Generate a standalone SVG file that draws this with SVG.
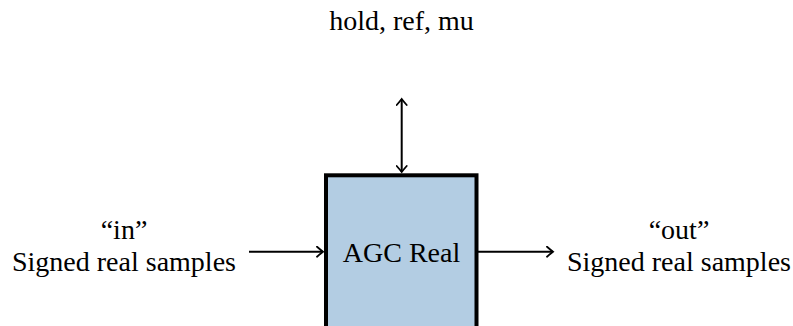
<svg xmlns="http://www.w3.org/2000/svg" width="793" height="326" viewBox="0 0 793 326">
<style>
text{font-family:"Liberation Serif","DejaVu Serif",serif;font-size:28px;fill:#000;text-anchor:middle}
.c{fill:none;stroke:#000;stroke-width:2}
</style>
<defs>
<marker id="ah" viewBox="-8 -6 10 12" markerWidth="10" markerHeight="12" refX="0" refY="0" orient="auto-start-reverse" markerUnits="userSpaceOnUse">
<path d="M-6,-5 Q-2,-1.5 0,0 Q-2,1.5 -6,5" fill="none" stroke="#000" stroke-width="1.8" stroke-linecap="round"/>
</marker>
</defs>
<rect width="793" height="326" fill="#fff"/>
<g id="agc">
<rect x="326" y="175.3" width="150.5" height="160" fill="#b3cde3" stroke="#000" stroke-width="4"/>
<text x="401.5" y="261.5">AGC Real</text>
</g>
<g id="in-label">
<text x="124" y="239">“in”</text>
<text x="124" y="271">Signed real samples</text>
</g>
<g id="out-label">
<text x="679" y="239">“out”</text>
<text x="679" y="271">Signed real samples</text>
</g>
<g id="ctrl-label">
<text x="401.5" y="30">hold, ref, mu</text>
</g>
<g id="connectors">
<path class="c" d="M249,251.7 H323" marker-end="url(#ah)"/>
<path class="c" d="M478,251.7 H553" marker-end="url(#ah)"/>
<path class="c" d="M401.7,99 V172" marker-start="url(#ah)" marker-end="url(#ah)"/>
</g>
</svg>
